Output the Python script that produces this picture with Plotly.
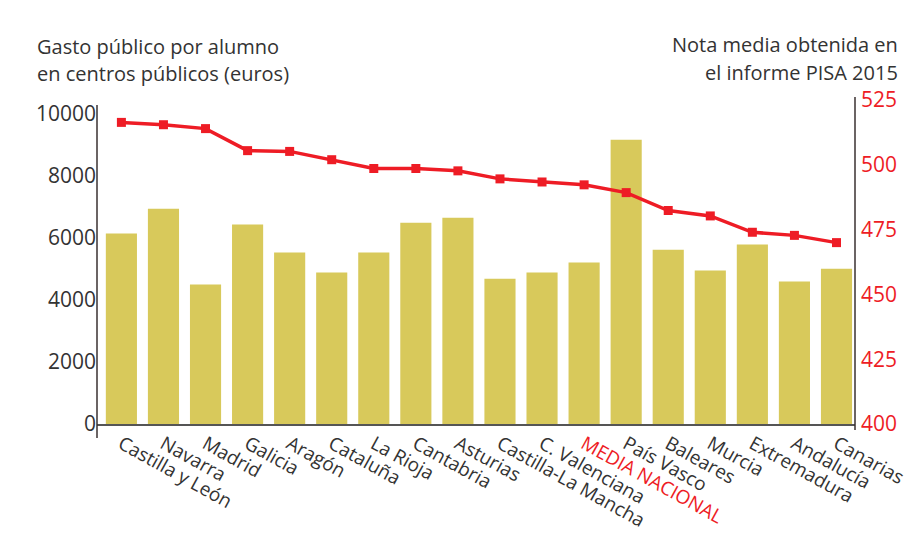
import plotly.graph_objects as go

regions = ["Castilla y León", "Navarra", "Madrid", "Galicia", "Aragón", "Cataluña",
           "La Rioja", "Cantabria", "Asturias", "Castilla-La Mancha", "C. Valenciana",
           "MEDIA NACIONAL", "País Vasco", "Baleares", "Murcia", "Extremadura",
           "Andalucía", "Canarias"]
tick_labels = ["Castilla y León", "Navarra", "Madrid", "Galicia", "Aragón", "Cataluña",
               "La Rioja", "Cantabria", "Asturias", "Castilla-La Mancha", "C. Valenciana",
               "<span style='color:#ee1c25'>MEDIA NACIONAL</span>", "País Vasco", "Baleares",
               "Murcia", "Extremadura", "Andalucía", "Canarias"]
gasto = [6130, 6930, 4490, 6420, 5520, 4880, 5520, 6480, 6640, 4680, 4880, 5200,
         9150, 5610, 4940, 5780, 4590, 5000]
pisa = [516.4, 515.5, 514.0, 505.5, 505.2, 502.0, 498.6, 498.6, 497.7, 494.6, 493.4,
        492.3, 489.3, 482.4, 480.3, 474.0, 472.8, 470.0]
left_ticks = [0, 2000, 4000, 6000, 8000, 10000]
left_tick_text = ["0", "2000", "4000", "6000", "8000", "10000"]
right_ticks = [400, 425, 450, 475, 500, 525]
left_title = ["Gasto público por alumno", "en centros públicos (euros)"]
right_title = ["Nota media obtenida en", "el informe PISA 2015"]

FONT = "Open Sans"
DARK = "#333333"
RED = "#ee1c25"

fig = go.Figure()
fig.add_trace(go.Bar(x=regions, y=gasto, marker=dict(color="#d8c95b", line=dict(width=0)),
                     width=0.74, yaxis="y"))
fig.add_trace(go.Scatter(x=regions, y=pisa, yaxis="y2", mode="lines+markers",
                         line=dict(color=RED, width=3.5),
                         marker=dict(symbol="square", size=9, color=RED)))

W, PL, PT, PB = 758, 97, 97, 424
PH = PB - PT


def px_x(p):
    return (p - PL) / W


def px_y(p):
    return (PB - p) / PH


annotations = []
for txt, yc in zip(left_title, [47, 73]):
    annotations.append(dict(text=txt, xref="paper", yref="paper", x=px_x(35), y=px_y(yc),
                            xanchor="left", yanchor="middle", showarrow=False,
                            font=dict(size=20, color=DARK, family=FONT)))
for txt, yc in zip(right_title, [45, 72]):
    annotations.append(dict(text=txt, xref="paper", yref="paper", x=px_x(900), y=px_y(yc),
                            xanchor="right", yanchor="middle", showarrow=False,
                            font=dict(size=20, color=DARK, family=FONT)))

fig.update_layout(
    width=909, height=554,
    margin=dict(l=97, r=54, t=97, b=130),
    paper_bgcolor="white", plot_bgcolor="white",
    showlegend=False,
    font=dict(family=FONT, color=DARK),
    xaxis=dict(type="category", range=[-0.58, 17.44], tickvals=regions, ticktext=tick_labels,
               tickangle=29, tickfont=dict(size=19, color=DARK, family=FONT),
               showline=True, linecolor="#555555", linewidth=1.5, ticks="",
               showgrid=False, zeroline=False, automargin=False),
    yaxis=dict(range=[0, 10528], tickvals=left_ticks, ticktext=left_tick_text,
               showgrid=False, zeroline=False, automargin=False,
               showline=False, ticks="", tickfont=dict(size=21, color=DARK, family=FONT)),
    yaxis2=dict(range=[400, 526.2], tickvals=right_ticks, overlaying="y", side="right",
                showgrid=False, zeroline=False, showline=False, ticks="", automargin=False,
                ticklabelstandoff=5,
                tickfont=dict(size=21, color=RED, family=FONT)),
    shapes=[
        dict(type="line", xref="paper", yref="paper", x0=0, x1=0, y0=px_y(438), y1=px_y(105),
             line=dict(color="#3a3030", width=1.5)),
        dict(type="line", xref="paper", yref="paper", x0=1, x1=1, y0=px_y(430), y1=px_y(97),
             line=dict(color="#3a3030", width=1.5)),
    ],
    annotations=annotations,
)

fig.write_html("out.html", config={"displayModeBar": False},
               post_script="document.body.style.margin='0px';")
